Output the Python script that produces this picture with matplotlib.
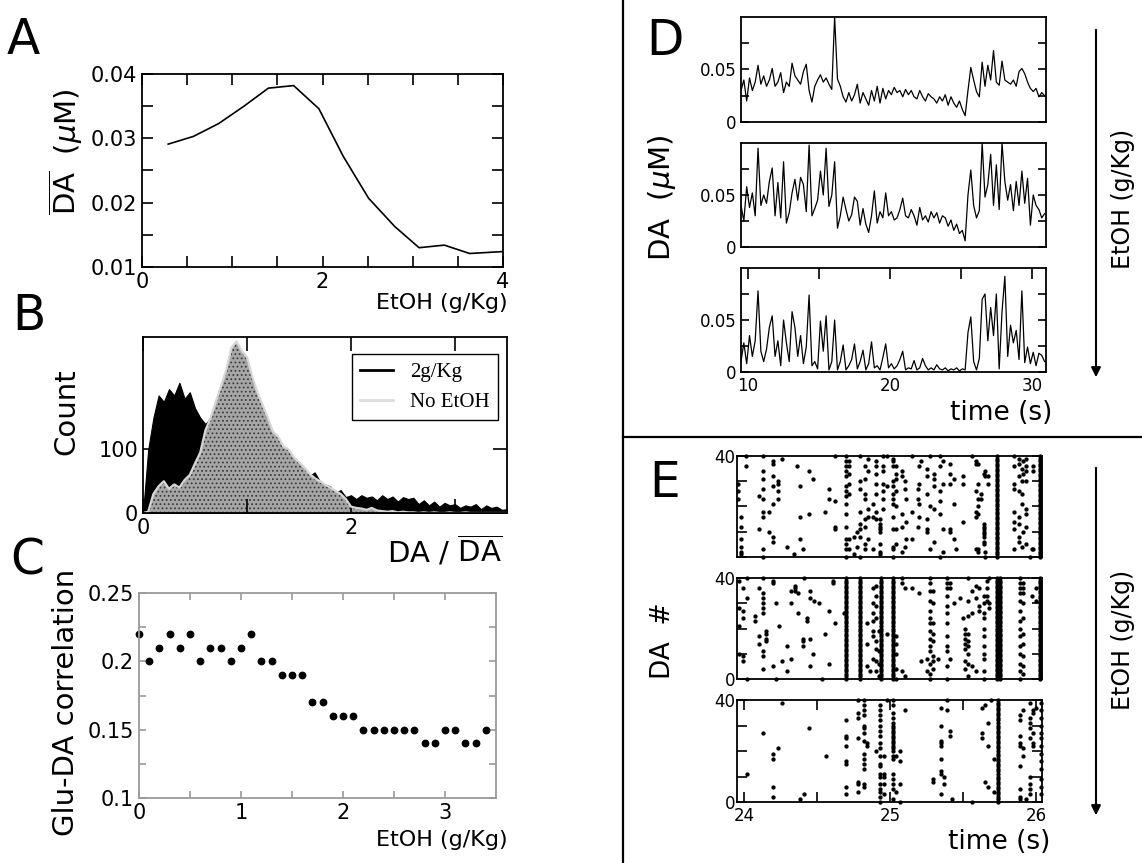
import numpy as np
import matplotlib
matplotlib.use("Agg")
import matplotlib.pyplot as plt
from matplotlib.lines import Line2D
from matplotlib.patches import FancyArrowPatch

plt.rcParams['font.family'] = 'DejaVu Sans'
plt.rcParams['mathtext.fontset'] = 'dejavusans'
plt.rcParams['hatch.linewidth'] = 0.8

# ---------------- data ----------------
# A: mean DA vs EtOH
a_etoh = [0.29, 0.57, 0.85, 1.13, 1.40, 1.68, 1.96, 2.23, 2.51, 2.80, 3.07, 3.35, 3.63, 4.0]
a_da = [0.0291, 0.0303, 0.0323, 0.0350, 0.0378, 0.0382, 0.0346, 0.0272, 0.0207, 0.0163,
        0.0130, 0.0134, 0.0121, 0.0124]

# B: histogram of DA / mean DA
b_x = np.linspace(0, 3.5, 71)  # bin centres, 0.05 wide
b_2g = [0, 100, 150, 185, 175, 195, 185, 205, 180, 190,
        165, 150, 140, 150, 160, 175, 190, 200, 210, 200,
        190, 170, 150, 135, 125, 110, 100, 92, 85, 78,
        70, 62, 58, 64, 50, 45, 42, 32, 36, 25,
        28, 22, 28, 24, 26, 20, 28, 22, 26, 18,
        25, 22, 24, 14, 20, 12, 18, 10, 16, 12,
        14, 8, 12, 10, 14, 6, 12, 8, 10, 5, 6]
b_none = [0, 2, 30, 42, 50, 38, 45, 40, 52, 60,
          78, 95, 130, 150, 175, 200, 225, 260, 270, 255,
          245, 215, 190, 170, 150, 128, 120, 105, 100, 88,
          80, 72, 62, 55, 50, 45, 40, 35, 30, 22,
          10, 8, 7, 5, 8, 4, 3, 2, 3, 1,
          2, 1, 1, 0, 1, 0, 1, 0, 0, 1,
          0, 0, 1, 0, 0, 0, 0, 0, 0, 0, 0]

# C: Glu-DA correlation vs EtOH
c_etoh = [0.0, 0.1, 0.2, 0.3, 0.4, 0.5, 0.6, 0.7, 0.8, 0.9, 1.0, 1.1, 1.2, 1.3, 1.4, 1.5, 1.6, 1.7,
          1.8, 1.9, 2.0, 2.1, 2.2, 2.3, 2.4, 2.5, 2.6, 2.7, 2.8, 2.9, 3.0, 3.1, 3.2, 3.3, 3.4]
c_corr = [0.22, 0.20, 0.21, 0.22, 0.21, 0.22, 0.20, 0.21, 0.21, 0.20, 0.21, 0.22, 0.20, 0.20,
          0.19, 0.19, 0.19, 0.17, 0.17, 0.16, 0.16, 0.16, 0.15, 0.15, 0.15, 0.15, 0.15, 0.15,
          0.14, 0.14, 0.15, 0.15, 0.14, 0.14, 0.15]

# D: DA traces (uM), sampled every 0.2 s
d_time = np.round(np.arange(9.5, 31.0, 0.2), 1)
d_low = [0.030, 0.040, 0.020, 0.042, 0.030, 0.038, 0.054, 0.036, 0.044, 0.034,
         0.040, 0.051, 0.034, 0.038, 0.047, 0.028, 0.038, 0.034, 0.056, 0.044,
         0.040, 0.036, 0.048, 0.055, 0.030, 0.019, 0.034, 0.040, 0.045, 0.038,
         0.042, 0.036, 0.031, 0.100, 0.041, 0.034, 0.024, 0.019, 0.028, 0.020,
         0.026, 0.036, 0.018, 0.028, 0.022, 0.016, 0.030, 0.020, 0.034, 0.018,
         0.032, 0.022, 0.030, 0.026, 0.033, 0.028, 0.030, 0.024, 0.031, 0.026,
         0.030, 0.024, 0.022, 0.030, 0.024, 0.020, 0.027, 0.024, 0.022, 0.018,
         0.024, 0.020, 0.026, 0.016, 0.024, 0.018, 0.014, 0.020, 0.012, 0.006,
         0.030, 0.052, 0.040, 0.029, 0.024, 0.057, 0.034, 0.054, 0.040, 0.068,
         0.038, 0.035, 0.058, 0.040, 0.038, 0.036, 0.040, 0.034, 0.048, 0.051,
         0.046, 0.038, 0.032, 0.029, 0.032, 0.024, 0.028, 0.025]
d_mid = [0.040, 0.025, 0.058, 0.038, 0.052, 0.030, 0.095, 0.040, 0.050, 0.042,
         0.063, 0.076, 0.030, 0.062, 0.028, 0.082, 0.023, 0.033, 0.052, 0.065,
         0.045, 0.067, 0.060, 0.034, 0.098, 0.030, 0.037, 0.045, 0.073, 0.050,
         0.095, 0.039, 0.050, 0.082, 0.018, 0.030, 0.048, 0.036, 0.025, 0.031,
         0.048, 0.044, 0.021, 0.037, 0.022, 0.014, 0.030, 0.054, 0.023, 0.034,
         0.028, 0.052, 0.030, 0.034, 0.026, 0.028, 0.036, 0.047, 0.030, 0.028,
         0.036, 0.030, 0.021, 0.038, 0.026, 0.030, 0.024, 0.034, 0.028, 0.033,
         0.023, 0.030, 0.028, 0.020, 0.026, 0.016, 0.022, 0.013, 0.016, 0.006,
         0.050, 0.074, 0.040, 0.028, 0.035, 0.100, 0.048, 0.060, 0.089, 0.040,
         0.079, 0.036, 0.100, 0.063, 0.045, 0.060, 0.035, 0.063, 0.040, 0.073,
         0.042, 0.066, 0.021, 0.050, 0.040, 0.036, 0.028, 0.032]
d_high = [0.010, 0.028, 0.008, 0.035, 0.015, 0.030, 0.078, 0.020, 0.010, 0.022,
          0.043, 0.054, 0.015, 0.030, 0.006, 0.050, 0.028, 0.010, 0.058, 0.043,
          0.015, 0.035, 0.008, 0.024, 0.074, 0.006, 0.010, 0.003, 0.049, 0.020,
          0.054, 0.002, 0.010, 0.050, 0.002, 0.010, 0.026, 0.002, 0.006, 0.012,
          0.027, 0.003, 0.010, 0.021, 0.002, 0.008, 0.029, 0.004, 0.006, 0.002,
          0.014, 0.027, 0.004, 0.008, 0.003, 0.006, 0.012, 0.020, 0.002, 0.004,
          0.003, 0.011, 0.002, 0.004, 0.013, 0.006, 0.002, 0.004, 0.002, 0.007,
          0.003, 0.002, 0.004, 0.001, 0.003, 0.002, 0.004, 0.001, 0.003, 0.002,
          0.038, 0.053, 0.010, 0.002, 0.013, 0.070, 0.075, 0.030, 0.062, 0.035,
          0.075, 0.003, 0.058, 0.092, 0.015, 0.045, 0.028, 0.040, 0.012, 0.078,
          0.009, 0.024, 0.008, 0.019, 0.006, 0.018, 0.016, 0.010]

# E: raster, (spike time, [DA neuron numbers]); full columns = all 0..40 fire
e_low_spikes = [
    (23.96, [26, 23, 29]), (23.98, [16, 12, 7, 4, 2, 1]), (24.01, [40, 36]),
    (24.10, [24, 11]), (24.13, [40, 34, 31, 27, 23, 18, 16, 3, 0]), (24.17, [18, 10]),
    (24.20, [38, 37, 32, 28, 21, 8, 6]), (24.23, [30, 29, 26, 23]), (24.26, [39]),
    (24.29, [4]), (24.34, [1]), (24.36, [36]), (24.38, [28, 16, 7]), (24.40, [3]),
    (24.44, [34, 17]), (24.47, [31]), (24.55, [18]), (24.58, [27, 23]),
    (24.62, [40, 22, 12, 11]),
    (24.70, [40, 38, 36, 34, 32, 28, 26, 24, 21, 17, 12, 7, 5, 3, 0]),
    (24.72, [38, 36, 33, 29, 25, 7, 3]), (24.75, [8, 1]), (24.77, [10, 4]),
    (24.79, [40, 30, 27, 18, 13, 11, 8, 0]), (24.83, [36, 31, 25, 23, 15, 12, 5, 3]),
    (24.85, [39, 34, 19, 16, 7]), (24.88, [21, 16, 3]), (24.90, [38, 36, 33, 29, 25, 18, 15]),
    (24.93, [15, 13, 12, 11, 10, 5, 2, 1]), (24.95, [40, 36, 34, 29, 26, 23, 19]),
    (24.98, [40, 28]), (25.02, [39, 38, 36, 30, 28, 25, 23, 21, 16, 11, 4, 3, 0]),
    (25.04, [36, 33, 31, 26, 20, 11, 5]), (25.08, [34, 32, 17, 12, 2]), (25.10, [30, 27, 4]),
    (25.11, [23, 14, 7]), (25.15, [40, 18, 7]), (25.19, [27, 23, 12]),
    (25.20, [36, 29, 21, 16]), (25.21, [38]), (25.25, [35, 32, 25, 15, 11, 10]),
    (25.27, [40, 20, 3]), (25.30, [33, 31, 28, 19, 6]), (25.34, [40, 36, 26, 22, 17, 0]),
    (25.36, [38, 29, 11, 2]), (25.41, [37, 33, 29, 11, 10]), (25.44, [31, 21, 7]),
    (25.45, [3]), (25.50, [32, 29, 14]), (25.56, [40]), (25.59, [38, 37, 26, 18, 16, 3]),
    (25.60, [37, 29, 23, 20, 17, 3, 2]), (25.62, [25, 23]),
    (25.64, [33, 13, 12, 11, 10, 9, 8, 6, 5]), (25.65, [34, 32, 2, 0]), (25.67, [32, 29]),
    (25.85, [40, 36, 29, 27, 18, 14, 11, 3]), (25.88, [39, 37, 32, 26, 16, 13, 8, 6]),
    (25.90, [35, 30, 25, 21, 4]), (25.91, [38, 33, 10]), (25.93, [39, 36, 34, 30, 19, 17, 12, 5]),
    (25.96, [0]), (25.97, [3]), (25.98, [36, 34, 3]),
]
e_low_columns = [25.73, 26.025]

e_mid_spikes = [
    (23.965, [39, 28, 21, 10]), (23.99, [36, 27, 24, 9, 7]), (24.02, [40, 32, 0]),
    (24.07, [25, 23]), (24.10, [36, 17, 14]), (24.13, [40, 34, 32, 30, 28, 26, 11, 9, 4]),
    (24.15, [19, 18, 16, 15]), (24.20, [39, 38, 5]), (24.22, [30, 0]), (24.24, [21]),
    (24.26, [7]), (24.29, [13, 3]), (24.32, [35, 30, 8]), (24.35, [37, 36, 35]),
    (24.37, [34, 26]), (24.40, [16, 15, 13]), (24.41, [40]), (24.43, [24, 23]),
    (24.45, [35, 32, 16, 5]), (24.47, [10]), (24.48, [31]), (24.51, [30]), (24.53, [0]),
    (24.55, [18]), (24.58, [27, 6]), (24.61, [39, 38]), (24.62, [22]), (24.68, [26]),
    (24.84, [5, 14, 22]), (24.86, [3]), (24.88, [36, 30, 26, 23, 19, 17, 8]),
    (24.90, [37, 33, 29, 24, 15, 12, 7, 3]), (24.92, [19, 11, 6, 1]), (24.98, [18]),
    (25.04, [17, 14, 10, 4, 0]), (25.08, [40, 38, 3]), (25.10, [36, 1]), (25.15, [36]),
    (25.20, [34]), (25.21, [7]), (25.25, [8, 3]),
    (25.27, [40, 38, 35, 31, 27, 24, 22, 19, 16, 13, 11, 6, 2, 0]),
    (25.29, [35, 30, 22, 18, 15, 9, 7, 4]), (25.33, [8]),
    (25.39, [40, 38, 36, 33, 29, 26, 22, 17, 13, 11, 5, 0]), (25.41, [38, 36, 8]),
    (25.44, [30]), (25.48, [32]), (25.50, [24]), (25.51, [20, 18, 16, 14, 12, 7, 4]),
    (25.53, [40, 31, 25, 18, 15, 13, 10, 6, 1]), (25.56, [35, 26, 5]), (25.59, [37, 32, 3]),
    (25.61, [36, 29, 27]), (25.64, [33, 30, 26, 24, 20, 17, 13, 10, 8, 3, 0]),
    (25.66, [39, 36, 33, 31]), (25.68, [40, 30, 28]),
    (25.89, [40, 38, 36, 34, 31, 27, 23, 20, 17, 13, 10, 6, 3, 0]),
    (25.91, [38, 36, 34, 30, 24, 18, 14, 9, 5, 2]), (25.97, [33]), (26.00, [31, 36]),
]
e_mid_columns = [24.70, 24.79, 24.94, 25.02, 25.73, 25.75, 26.025]

e_high_spikes = [
    (24.02, [11]), (24.13, [27]), (24.20, [19, 17, 6, 2]), (24.23, [21]), (24.26, [39]),
    (24.38, [1]), (24.41, [3]), (24.44, [29]), (24.56, [18]),
    (24.70, [32, 26, 25, 22, 16, 15, 6, 3]), (24.78, [40, 35, 33, 25, 8, 7, 4]),
    (24.82, [40, 38, 36, 34, 30, 29, 27, 24, 19, 17, 15, 13, 7, 6]), (24.84, [23, 22]),
    (24.90, [20]),
    (24.93, [38, 36, 34, 32, 30, 28, 26, 23, 21, 18, 15, 14, 11, 10, 7, 5, 4, 2, 0]),
    (24.96, [18, 11, 10, 7, 3]), (24.98, [40]),
    (25.02, [40, 38, 35, 33, 31, 30, 29, 28, 27, 26, 25, 24, 23, 22, 21, 20, 18, 17, 11, 9, 7, 5, 1]),
    (25.04, [18, 4]), (25.07, [20, 16, 7, 0]), (25.10, [36]), (25.29, [9, 8]),
    (25.35, [37, 30, 24, 23, 22, 17, 12, 11, 3]), (25.37, [10, 7]), (25.39, [40, 36]),
    (25.41, [28, 26]), (25.42, [1]), (25.56, [0]), (25.63, [37, 27, 25]), (25.65, [38, 8]),
    (25.67, [31, 22, 6]), (25.69, [40]), (25.71, [17, 4]),
    (25.89, [34, 32, 26, 23, 22, 14, 5, 2, 1]), (25.91, [36, 21, 18]), (25.93, [1]),
    (25.96, [39, 33, 31, 29, 25, 10, 7, 5, 3]), (25.98, [36, 35, 27, 23, 22]), (26.00, [37]),
    (26.03, [39, 36, 33, 30, 27, 25, 22, 19, 16, 13, 9, 6, 3]),
]
e_high_columns = [25.74]

# ---------------- layout helpers ----------------
W, H = 1142, 863
fig = plt.figure(figsize=(W / 100, H / 100), dpi=100)


def fx(px):
    return px / W


def fy(py):
    return 1 - py / H


def add_ax(l, t, r, b):
    return fig.add_axes([fx(l), fy(b), (r - l) / W, (b - t) / H])


def ticks_in(ax, size, length=6, color='black'):
    ax.tick_params(which='both', direction='in', top=True, right=True,
                   labelsize=size, length=length, color=color, width=1.2)
    for s in ax.spines.values():
        s.set_linewidth(1.3)
        s.set_color(color)


# ---------------- A ----------------
axA = add_ax(142, 74, 503, 267)
axA.plot(a_etoh, a_da, color='k', lw=1.2)
axA.set_xlim(0, 4)
axA.set_ylim(0.01, 0.04)
axA.set_xticks([0, 2, 4])
axA.set_xticks(np.arange(0.5, 4, 0.5), minor=True)
axA.set_yticks([0.01, 0.02, 0.03, 0.04])
axA.set_yticklabels(['0.01', '0.02', '0.03', '0.04'])
axA.set_yticks([0.015, 0.025, 0.035], minor=True)
ticks_in(axA, 15, 8)
fig.text(fx(508), fy(303), 'EtOH (g/Kg)', ha='right', va='center', fontsize=16)
fig.text(fx(66), fy(152), r'$\overline{\mathrm{DA}}$  ($\mu$M)', rotation=90,
         ha='center', va='center', fontsize=21)

# ---------------- B ----------------
axB = add_ax(143, 337, 507, 513)
axB.fill_between(b_x, b_2g, color='k', lw=0.8)
axB.fill_between(b_x, b_none, facecolor='#a6a6a6', hatch='....', edgecolor='#3c3c3c', lw=0)
axB.plot(b_x, b_none, color='#d6d6d6', lw=1.6)
axB.set_xlim(0, 3.5)
axB.set_ylim(0, 277)
axB.set_xticks([0, 1, 2, 3])
axB.set_xticklabels(['0', '', '2', ''])
axB.set_yticks([0, 100])
ticks_in(axB, 15, 10)
leg = axB.legend([Line2D([], [], color='k', lw=2), Line2D([], [], color='#dddddd', lw=2)],
                 ['2g/Kg', 'No EtOH'], loc='upper right',
                 bbox_to_anchor=(1 - 9 / 364, 1 - 17 / 176), borderaxespad=0,
                 prop={'family': 'Liberation Serif', 'size': 15}, fancybox=False,
                 framealpha=1, edgecolor='k', handlelength=1.6)
leg.get_frame().set_linewidth(1)
fig.text(fx(66), fy(412), 'Count', rotation=90, ha='center', va='center', fontsize=21)
fig.text(fx(502), fy(551), r'DA / $\overline{\mathrm{DA}}$', ha='right', va='center', fontsize=21)

# ---------------- C ----------------
axC = add_ax(139, 593, 496, 798)
axC.plot(c_etoh, c_corr, 'o', color='k', ms=4.6, clip_on=False)
axC.set_xlim(0, 3.5)
axC.set_ylim(0.1, 0.25)
axC.set_xticks([0, 1, 2, 3])
axC.set_xticks([0.5, 1.5, 2.5], minor=True)
axC.set_yticks([0.1, 0.15, 0.2, 0.25])
axC.set_yticklabels(['0.1', '0.15', '0.2', '0.25'])
axC.set_yticks([0.125, 0.175, 0.225], minor=True)
ticks_in(axC, 15, 5, color='#9a9a9a')
axC.tick_params(labelcolor='k')
fig.text(fx(66), fy(702), 'Glu-DA correlation', rotation=90, ha='center', va='center', fontsize=21)
fig.text(fx(508), fy(840), 'EtOH (g/Kg)', ha='right', va='center', fontsize=16)

# ---------------- D ----------------
d_rows = [(17, 122, d_low), (143, 247, d_mid), (268, 372, d_high)]
for i, (top, bot, trace) in enumerate(d_rows):
    ax = add_ax(741, top, 1046, bot)
    ax.plot(d_time, trace, color='k', lw=0.9)
    ax.set_xlim(9.5, 31)
    ax.set_ylim(0, 0.1)
    ax.set_yticks([0, 0.05])
    ax.set_yticklabels(['0', '0.05'])
    ax.set_yticks([0.025, 0.075], minor=True)
    ticks_in(ax, 12, 6)
    if i < 2:
        ax.set_xticks([])
    else:
        ax.set_xticks([10, 20, 30])
        ax.set_xticks([15, 25], minor=True)
        ax.tick_params(which='both', axis='x', bottom=False, top=True, length=8)

fig.text(fx(662), fy(198), r'DA  ($\mu$M)', rotation=90, ha='center', va='center', fontsize=21)
fig.text(fx(1052), fy(413), 'time (s)', ha='right', va='center', fontsize=19)
fig.text(fx(1123), fy(199), 'EtOH (g/Kg)', rotation=90, ha='center', va='center', fontsize=17)
fig.add_artist(FancyArrowPatch((fx(1096), fy(27)), (fx(1096), fy(380)), transform=fig.transFigure,
                               arrowstyle='-|>', mutation_scale=14, lw=1.5, color='k'))

# ---------------- E ----------------
e_rows = [(456, 557, e_low_spikes, e_low_columns),
          (578, 679, e_mid_spikes, e_mid_columns),
          (700, 802, e_high_spikes, e_high_columns)]
for i, (top, bot, spikes, columns) in enumerate(e_rows):
    ax = add_ax(737, top, 1042, bot)
    ts, ns = [], []
    for t, cells in spikes:
        ts += [t] * len(cells)
        ns += cells
    for t in columns:
        ts += [t] * 41
        ns += list(range(41))
    ax.plot(ts, ns, 'o', color='k', ms=3.1, mec='none', clip_on=False)
    ax.set_xlim(23.95, 26.04)
    ax.set_ylim(0, 40)
    ax.set_yticks([0, 40])
    ax.set_yticklabels(['', '40'] if i == 0 else ['0', '40'])
    ax.set_yticks([10, 20, 30], minor=True)
    ticks_in(ax, 12, 7)
    ax.tick_params(axis='y', pad=1)
    if i < 2:
        ax.set_xticks([])
    else:
        ax.set_xticks([24, 25, 26])
        ax.set_xticks([24.5, 25.5], minor=True)

fig.text(fx(663), fy(641), 'DA  #', rotation=90, ha='center', va='center', fontsize=19)
fig.text(fx(1050), fy(842), 'time (s)', ha='right', va='center', fontsize=19)
fig.text(fx(1123), fy(640), 'EtOH (g/Kg)', rotation=90, ha='center', va='center', fontsize=17)
fig.add_artist(FancyArrowPatch((fx(1096), fy(465)), (fx(1096), fy(818)), transform=fig.transFigure,
                               arrowstyle='-|>', mutation_scale=14, lw=1.5, color='k'))

# panel letters
for letter, (px, py) in zip('ABCDE', [(23, 40), (29, 316), (27, 560), (665, 41), (665, 483)]):
    fig.text(fx(px), fy(py), letter, ha='center', va='center', fontsize=35)

# dividers
fig.add_artist(Line2D([fx(623), fx(623)], [0, 1], transform=fig.transFigure, color='k', lw=1.6))
fig.add_artist(Line2D([fx(623), 1], [fy(437), fy(437)], transform=fig.transFigure, color='k', lw=1.6))

fig.savefig('out.png', dpi=100)
